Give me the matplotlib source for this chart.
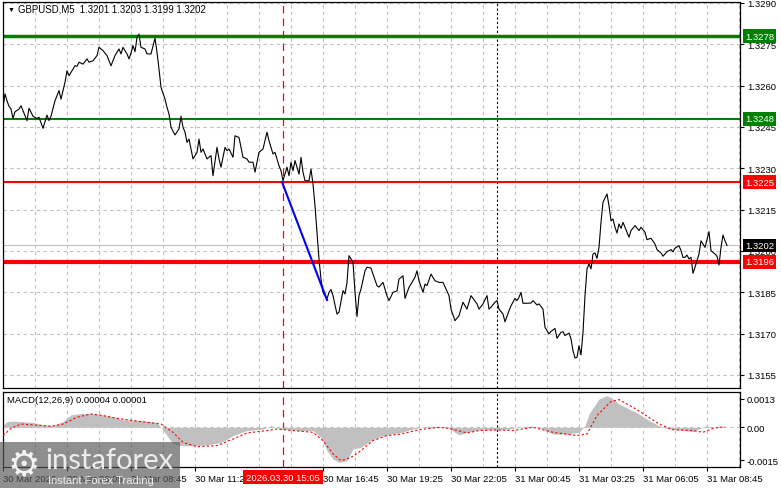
import matplotlib
matplotlib.use("Agg")
import matplotlib.pyplot as plt
from matplotlib.patches import Rectangle

plt.rcParams['font.family'] = ['Liberation Sans', 'DejaVu Sans']

# GBPUSD M5 closes (bar index from the left edge)
bars = [0, 1, 2, 3, 4, 5, 6, 8, 9, 10, 12, 13, 15, 17, 18, 20, 21, 22, 23, 24,
        26, 28, 29, 31, 32, 33, 35, 36, 37, 38, 40, 42, 43, 45, 47, 48, 50, 52, 54, 56,
        58, 59, 60, 62, 63, 64, 65, 66, 67, 68, 69, 71, 72, 74, 76, 77, 78, 79, 81, 82,
        83, 84, 86, 88, 89, 90, 91, 92, 93, 95, 97, 98, 99, 100, 102, 104, 105, 107, 108, 109,
        111, 112, 113, 115, 116, 118, 120, 122, 123, 125, 126, 128, 130, 132, 133, 135, 136, 138, 139, 140,
        142, 143, 144, 145, 146, 148, 149, 150, 151, 153, 154, 155, 156, 157, 158, 159, 160, 162, 163, 164,
        165, 167, 168, 170, 171, 172, 173, 175, 176, 177, 178, 179, 181, 182, 184, 185, 187, 188, 190, 192,
        193, 195, 197, 198, 200, 201, 203, 204, 206, 207, 208, 210, 211, 212, 214, 216, 218, 220, 223, 224,
        226, 228, 230, 232, 234, 237, 238, 240, 242, 243, 244, 246, 247, 248, 250, 251, 253, 254, 256, 257,
        258, 259, 260, 264, 265, 267, 268, 270, 271, 273, 274, 276, 277, 279, 280, 281, 283, 284, 285, 286,
        287, 288, 289, 290, 291, 292, 293, 294, 295, 296, 297, 298, 299, 300, 302, 303, 304, 305, 306, 307,
        308, 309, 310, 311, 313, 314, 316, 318, 319, 321, 322, 324, 326, 327, 329, 330, 332, 334, 335, 336,
        338, 339, 340, 341, 342, 343, 344, 345, 346, 348, 349, 350, 351, 353, 354, 356, 357, 358, 359, 360,
        361, 362]
closes = [1.32521, 1.32570, 1.32545, 1.32525, 1.32515, 1.32481, 1.32505, 1.32515, 1.32527, 1.32509,
          1.32473, 1.32518, 1.32489, 1.32481, 1.32485, 1.32445, 1.32469, 1.32493, 1.32473, 1.32489,
          1.32545, 1.32582, 1.32551, 1.32612, 1.32654, 1.32636, 1.32660, 1.32672, 1.32670, 1.32685,
          1.32678, 1.32697, 1.32685, 1.32690, 1.32709, 1.32739, 1.32727, 1.32709, 1.32672, 1.32709,
          1.32733, 1.32715, 1.32739, 1.32715, 1.32697, 1.32718, 1.32745, 1.32723, 1.32775, 1.32787,
          1.32739, 1.32733, 1.32715, 1.32715, 1.32772, 1.32721, 1.32660, 1.32594, 1.32551, 1.32521,
          1.32497, 1.32449, 1.32421, 1.32443, 1.32489, 1.32449, 1.32431, 1.32394, 1.32406, 1.32334,
          1.32358, 1.32406, 1.32358, 1.32370, 1.32334, 1.32346, 1.32273, 1.32376, 1.32334, 1.32304,
          1.32376, 1.32364, 1.32370, 1.32340, 1.32418, 1.32412, 1.32340, 1.32334, 1.32322, 1.32322,
          1.32286, 1.32358, 1.32370, 1.32431, 1.32400, 1.32352, 1.32358, 1.32309, 1.32291, 1.32255,
          1.32304, 1.32273, 1.32322, 1.32291, 1.32328, 1.32279, 1.32340, 1.32286, 1.32255, 1.32255,
          1.32297, 1.32243, 1.32164, 1.32068, 1.31971, 1.31898, 1.31850, 1.31826, 1.31850, 1.31860,
          1.31838, 1.31771, 1.31778, 1.31856, 1.31844, 1.31886, 1.31983, 1.31959, 1.31850, 1.31762,
          1.31838, 1.31862, 1.31928, 1.31941, 1.31938, 1.31916, 1.31874, 1.31869, 1.31886, 1.31837,
          1.31820, 1.31850, 1.31855, 1.31898, 1.31910, 1.31828, 1.31868, 1.31880, 1.31905, 1.31928,
          1.31892, 1.31850, 1.31880, 1.31874, 1.31916, 1.31892, 1.31886, 1.31886, 1.31838, 1.31789,
          1.31747, 1.31765, 1.31814, 1.31789, 1.31838, 1.31808, 1.31789, 1.31808, 1.31838, 1.31789,
          1.31796, 1.31814, 1.31820, 1.31789, 1.31771, 1.31743, 1.31783, 1.31801, 1.31828, 1.31820,
          1.31832, 1.31850, 1.31810, 1.31811, 1.31820, 1.31804, 1.31808, 1.31789, 1.31723, 1.31699,
          1.31708, 1.31719, 1.31683, 1.31705, 1.31707, 1.31693, 1.31702, 1.31681, 1.31638, 1.31612,
          1.31614, 1.31656, 1.31623, 1.31705, 1.31838, 1.31935, 1.31953, 1.31935, 1.31989, 1.31993,
          1.31973, 1.32013, 1.32104, 1.32177, 1.32207, 1.32164, 1.32110, 1.32116, 1.32086, 1.32065,
          1.32098, 1.32082, 1.32104, 1.32086, 1.32050, 1.32074, 1.32092, 1.32074, 1.32086, 1.32068,
          1.32041, 1.32046, 1.32025, 1.32005, 1.31993, 1.31981, 1.31997, 1.32005, 1.31997, 1.32010,
          1.32019, 1.32001, 1.31977, 1.31977, 1.31985, 1.31971, 1.31977, 1.31919, 1.31941, 1.31989,
          1.32037, 1.32025, 1.32013, 1.32070, 1.32001, 1.31989, 1.31981, 1.31949, 1.32013, 1.32058,
          1.32037, 1.32020]

# MACD(12,26,9): histogram (main) and signal line
hist_bars = [0, 2, 5, 15, 20, 25, 30, 34, 40, 47, 54, 60, 69, 77, 79, 82, 85, 89, 95, 102,
             109, 115, 122, 130, 134, 139, 149, 155, 159, 162, 165, 168, 172, 175, 179, 184, 189, 194, 199, 205,
             212, 218, 223, 228, 232, 238, 247, 253, 259, 265, 270, 275, 282, 288, 291, 293, 298, 302, 305, 308,
             313, 318, 323, 328, 333, 338, 345, 348, 352, 354, 361]
hist_vals = [0.00008, 0.00026, 0.00028, 0.00023, 0.00011, 0.00008, 0.00026, 0.00057, 0.00064, 0.00061,
             0.00050, 0.00035, 0.00031, 0.00023, 0.0, -0.00038, -0.00076, -0.00084, -0.00084, -0.00081,
             -0.00069, -0.00038, -0.00015, -0.00008, 0.00008, -0.00008, -0.00015, -0.00015, -0.00046, -0.00107,
             -0.00145, -0.00161, -0.00153, -0.00099, -0.00092, -0.00061, -0.00041, -0.00031, -0.00023, -0.00008,
             0.00005, 0.00003, -0.00005, -0.00035, -0.00023, -0.00012, -0.00011, -0.00008, 0.00003, 0.00005,
             -0.00008, -0.00031, -0.00031, -0.00023, 0.00008, 0.00061, 0.00130, 0.00145, 0.00130, 0.00107,
             0.00084, 0.00061, 0.00031, 0.00008, -0.00008, -0.00012, -0.00020, -0.00008, 0.00008, 0.0,
             0.00003]
sig_bars = [0, 4, 9, 15, 24, 30, 37, 44, 50, 57, 69, 79, 85, 90, 97, 107, 115, 122, 132, 137,
            145, 155, 160, 165, 169, 174, 179, 185, 192, 199, 208, 218, 223, 232, 238, 247, 255, 265, 275, 287,
            292, 297, 304, 308, 315, 321, 328, 335, 345, 350, 355, 361]
sig_vals = [-0.00038, -0.00005, 0.00015, 0.00011, 0.00005, 0.00015, 0.00046, 0.00061, 0.00054, 0.00041,
            0.00026, 0.00015, -0.00023, -0.00069, -0.00089, -0.00084, -0.00054, -0.00026, -0.00015, -0.00008,
            -0.00015, -0.00023, -0.00061, -0.00122, -0.00153, -0.00138, -0.00107, -0.00061, -0.00038, -0.00031,
            -0.00011, 0.0, -0.00005, -0.00026, -0.00015, -0.00012, -0.00015, 0.0, -0.00023, -0.00038,
            -0.00031, 0.00054, 0.00118, 0.00127, 0.00092, 0.00057, 0.00015, -0.00011, -0.00015, -0.00023,
            -0.00005, 0.00003]

price_ticks = [1.3155, 1.3170, 1.3185, 1.3200, 1.3215, 1.3230, 1.3245, 1.3260, 1.3275, 1.3290]
time_tick_bars = [0, 32, 64, 96, 160, 192, 224, 256, 288, 320, 352]
time_labels = ['30 Mar 2026', '30 Mar 06:05', '30 Mar 08:45', '30 Mar 11:25', '30 Mar 16:45',
               '30 Mar 19:25', '30 Mar 22:05', '31 Mar 00:45', '31 Mar 03:25', '31 Mar 06:05',
               '31 Mar 08:45']
# horizontal levels: price, colour, width
level_prices = [1.3278, 1.3248, 1.3225, 1.3196]
level_colors = ['#008000', '#008000', '#ff0000', '#ff0000']
level_widths = [2.5, 1.5, 1.5, 3.0]
last_price = 1.3202
trend_bars = [139.5, 162]
trend_prices = [1.3225, 1.31822]
cursor_bar = 140
day_sep_bar = 247

W, H = 781, 489
fig = plt.figure(figsize=(W / 100, H / 100), dpi=100)
fig.patch.set_facecolor('white')


def box(l, t, r, b):
    return [l / W, 1 - b / H, (r - l) / W, (b - t) / H]


ax = fig.add_axes(box(3, 3, 740, 389))
ax2 = fig.add_axes(box(3, 393, 740, 468))
grid_kw = dict(color='#c0c0c0', lw=0.8, ls=(0, (3, 3)), zorder=0)

for a in (ax, ax2):
    a.set_xlim(0, 368.5)
    for b in range(0, 369, 16):
        a.axvline(b, **grid_kw)
    a.axvline(cursor_bar, color='#ff0000', lw=0.9, ls=(0, (6, 4)), zorder=1)
    a.axvline(day_sep_bar, color='black', lw=0.8, ls=(0, (2, 2)), zorder=1)
    for s in a.spines.values():
        s.set_linewidth(0.9)
    a.yaxis.tick_right()
    a.tick_params(axis='both', labelsize=6.8, length=3, width=0.8, pad=2)

# price panel
ax.set_ylim(1.315028, 1.329034)
for p in price_ticks:
    ax.axhline(p, **grid_kw)
ax.axhline(last_price, color='#c0c0c0', lw=0.8, zorder=1)
for p, c, w in zip(level_prices, level_colors, level_widths):
    ax.axhline(p, color=c, lw=w, zorder=2)
ax.plot(bars, closes, color='black', lw=0.8, zorder=3)
ax.plot(trend_bars, trend_prices, color='#0000ff', lw=1.5, zorder=4)
ax.set_xticks([])
ax.set_yticks(price_ticks)
ax.set_yticklabels([f'{p:.4f}' for p in price_ticks])

box_prices = level_prices + [last_price]
box_colors = level_colors + ['black']
for p, c in zip(box_prices, box_colors):
    ax.text(1.0068, p, f'{p:.4f}', transform=ax.get_yaxis_transform(), ha='left', va='center',
            fontsize=6.8, color='white', zorder=10, clip_on=False,
            bbox=dict(boxstyle='square,pad=0.25', fc=c, ec='none'))

fig.text(8 / W, 1 - 10 / H, '\u25bc', fontsize=5, va='center', ha='left')
fig.text(18 / W, 1 - 10 / H, 'GBPUSD,M5  1.3201 1.3203 1.3199 1.3202', fontsize=6.9,
         va='center', ha='left')

# MACD panel
ax2.set_ylim(-0.001821, 0.001619)
ax2.axhline(0, **grid_kw)
ax2.fill_between(hist_bars, hist_vals, 0, color='#c0c0c0', lw=0, zorder=2)
ax2.plot(sig_bars, sig_vals, color='#ff0000', lw=0.8, ls=(0, (2, 2)), zorder=3)
ax2.set_yticks([0.0013, 0.0, -0.0015])
ax2.set_yticklabels(['0.0013', '0.00', '-0.0015'])
ax2.set_xticks(time_tick_bars)
ax2.set_xticklabels(time_labels)
for lbl in ax2.get_xticklabels():
    lbl.set_ha('left')
ax2.text(cursor_bar, -0.135, '2026.03.30 15:05', transform=ax2.get_xaxis_transform(),
         ha='center', va='center', fontsize=6.8, color='white', zorder=10, clip_on=False,
         bbox=dict(boxstyle='square,pad=0.3', fc='#ff0000', ec='none'))
fig.text(7 / W, 1 - 401 / H, 'MACD(12,26,9) 0.00004 0.00001', fontsize=6.8, va='center', ha='left')

# instaforex watermark
fig.patches.append(Rectangle((0, 0), 180 / W, 46 / H, transform=fig.transFigure,
                             fc='#5a5a5a', alpha=0.68, ec='none', zorder=20))
fig.text(24 / W, 1 - 465 / H, '\u2699', fontsize=26, color='white', alpha=0.9,
         ha='center', va='center', family=['DejaVu Sans'], zorder=21)
fig.text(45 / W, 1 - 461 / H, 'instaforex', fontsize=21, color='white', alpha=0.85,
         ha='left', va='center', family=['Lato', 'DejaVu Sans'], zorder=21)
fig.text(48 / W, 1 - 481 / H, 'Instant Forex Trading', fontsize=8, color='white', alpha=0.85,
         ha='left', va='center', zorder=21)

fig.savefig('out.png', dpi=100)
